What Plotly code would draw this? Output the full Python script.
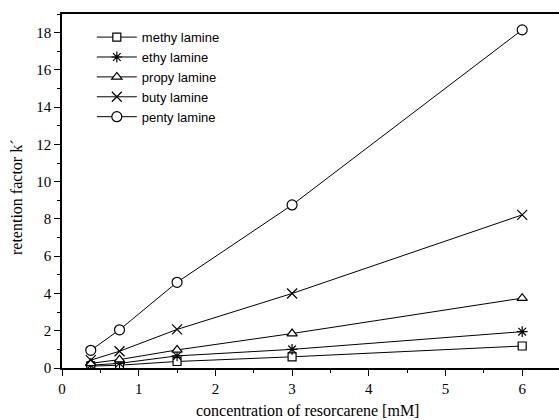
import plotly.graph_objects as go

conc = [0.375, 0.75, 1.5, 3, 6]
names = ["methy lamine", "ethy lamine", "propy lamine", "buty lamine", "penty lamine"]
methyl = [0.10, 0.15, 0.35, 0.60, 1.18]
ethyl = [0.15, 0.25, 0.65, 1.00, 1.95]
propyl = [0.25, 0.45, 0.97, 1.85, 3.75]
butyl = [0.42, 0.90, 2.07, 4.00, 8.22]
pentyl = [0.95, 2.05, 4.60, 8.75, 18.15]
series = [methyl, ethyl, propyl, butyl, pentyl]
symbols = ["square", "asterisk-open", "triangle-up", "x-thin-open", "circle"]
fills = ["white", "black", "white", "black", "white"]
sizes = [8, 9, 9, 10, 10]

fig = go.Figure()
for n, s, sym, fc, sz in zip(names, series, symbols, fills, sizes):
    fig.add_trace(go.Scatter(
        x=conc, y=s, name=n, mode="lines+markers",
        line=dict(color="black", width=1),
        marker=dict(symbol=sym, size=sz, color=fc,
                    line=dict(color="black", width=1.2)),
    ))

serif = "Liberation Serif, Times New Roman, serif"
fig.update_layout(
    width=559, height=420,
    margin=dict(l=62, r=0, t=14, b=52, autoexpand=False),
    plot_bgcolor="white", paper_bgcolor="white",
    showlegend=True,
    legend=dict(x=0.06, y=0.977, xanchor="left", yanchor="top",
                font=dict(family="Liberation Sans, Arial, sans-serif", size=13, color="black"),
                bgcolor="rgba(0,0,0,0)", tracegroupgap=0, itemwidth=40),
    font=dict(family=serif, color="black"),
    annotations=[
        dict(text="concentration of resorcarene [mM]", xref="paper", yref="paper",
             x=0.493, y=0, xanchor="center", yanchor="middle", yshift=-42,
             showarrow=False, font=dict(family=serif, size=16, color="black")),
        dict(text="retention factor k´", xref="paper", yref="paper",
             x=0, y=0.483, xanchor="center", yanchor="middle", xshift=-46,
             textangle=-90, showarrow=False, font=dict(family=serif, size=16, color="black")),
    ],
)
fig.update_xaxes(
    range=[0, 6.48], showgrid=False, zeroline=False, automargin=False,
    showline=True, linecolor="black", linewidth=1.5, mirror=True,
    ticks="outside", ticklen=6, tickwidth=1.2, tickcolor="black",
    tick0=0, dtick=1,
    minor=dict(ticks="outside", ticklen=3, dtick=0.5, tickcolor="black", tickwidth=1),
    tickfont=dict(family=serif, size=15, color="black"),
)
fig.update_yaxes(
    range=[0, 19], showgrid=False, zeroline=False, automargin=False,
    showline=True, linecolor="black", linewidth=1.5,
    ticks="outside", ticklen=6, tickwidth=1.2, tickcolor="black",
    tick0=0, dtick=2,
    minor=dict(ticks="outside", ticklen=3, dtick=1, tickcolor="black", tickwidth=1),
    tickfont=dict(family=serif, size=15, color="black"),
)
fig.write_html("out.html", config={"displayModeBar": False},
               post_script="document.body.style.margin='0';document.body.style.overflow='hidden';")
